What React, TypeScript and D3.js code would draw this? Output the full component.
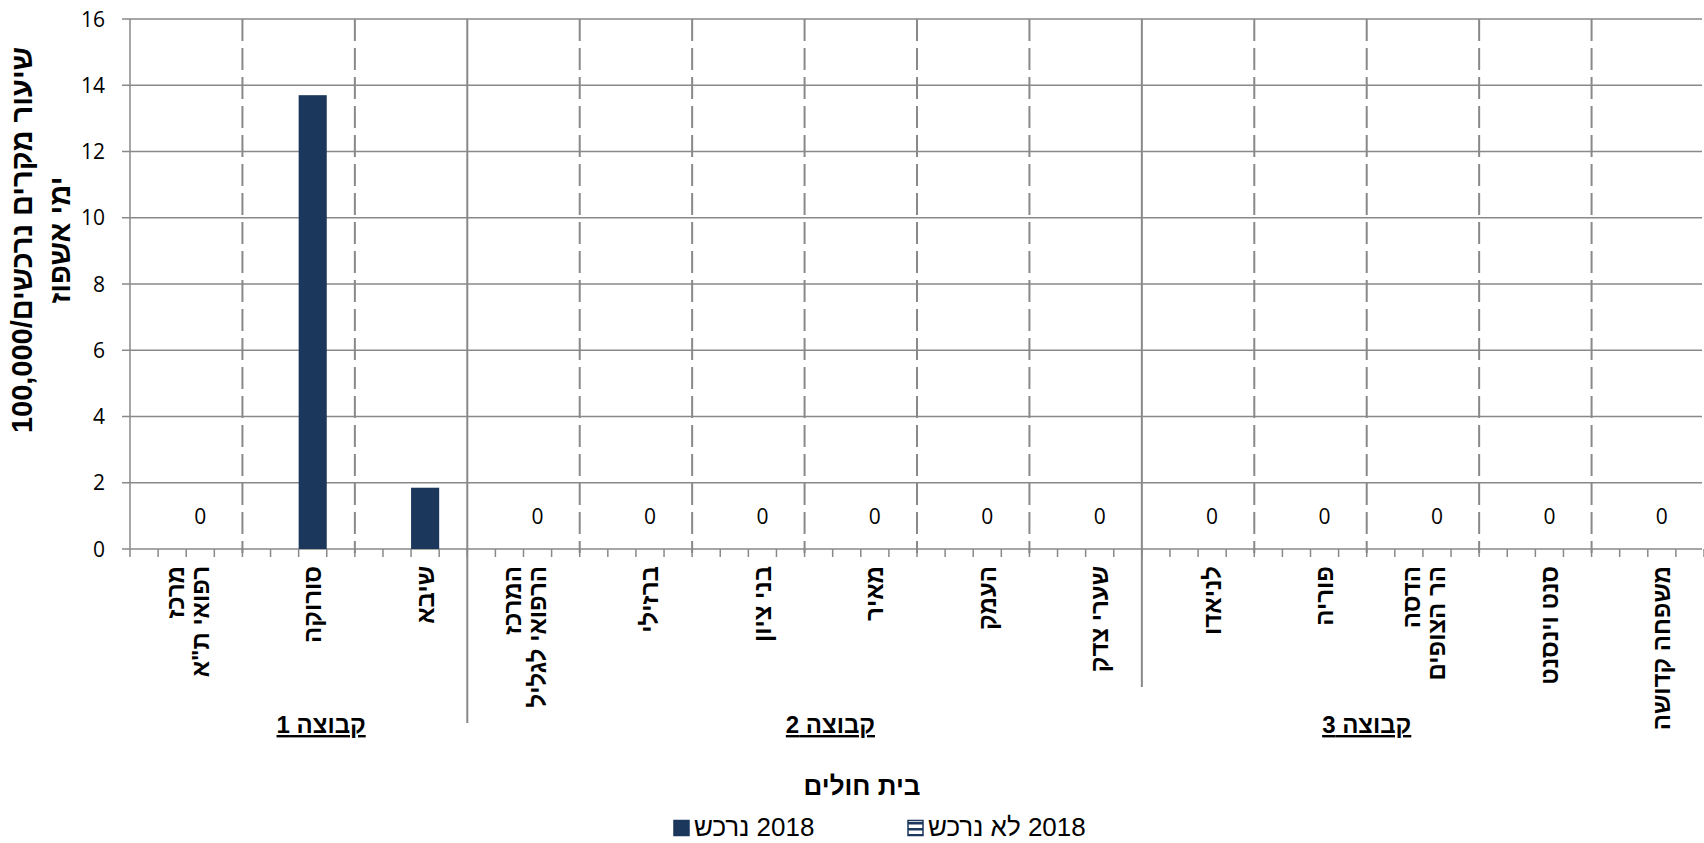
import React, { useEffect, useRef } from 'react';
import * as d3 from 'd3';

// ---------- data ----------
const categories = [
  'מרכז רפואי ת"א', 'סורוקה', 'שיבא',
  'המרכז הרפואי לגליל', 'ברזילי', 'בני ציון', 'מאיר', 'העמק', 'שערי צדק',
  'לניאדו', 'פוריה', 'הדסה הר הצופים', 'סנט וינסנט', 'משפחה קדושה',
];
const categoryLines: string[][] = [
  ['מרכז', 'רפואי ת"א'], ['סורוקה'], ['שיבא'],
  ['המרכז', 'הרפואי לגליל'], ['ברזילי'], ['בני ציון'], ['מאיר'], ['העמק'], ['שערי צדק'],
  ['לניאדו'], ['פוריה'], ['הדסה', 'הר הצופים'], ['סנט וינסנט'], ['משפחה קדושה'],
];
const groupNames = ['קבוצה 1', 'קבוצה 2', 'קבוצה 3'];
const groupSizes = [3, 6, 5];
const seriesNames = ['2018 נרכש', '2018 לא נרכש'];
const purchased2018 = [0, 13.7, 1.85, 0, 0, 0, 0, 0, 0, 0, 0, 0, 0, 0];
const notPurchased2018 = [0, 0, 0, 0, 0, 0, 0, 0, 0, 0, 0, 0, 0, 0];
const yTicks = [0, 2, 4, 6, 8, 10, 12, 14, 16];
const yTitleLines = ['שיעור מקרים נרכשים/100,000', 'ימי אשפוז'];
const xTitle = 'בית חולים';

// ---------- layout / style ----------
const W = 1704, H = 843;
const PLOT = { left: 130, right: 1704, top: 19, bottom: 549 };
const GRID = '#898989';
const BAR = '#1b375c';
const HEB = '"Liberation Sans", Arial, "DejaVu Sans", sans-serif';
const NUM = '"Open Sans", "Liberation Sans", sans-serif';
const groupSepBottom = [723, 687];
const groupLabelShift = [0.2, 0.23, -0.5]; // in category widths
const LEGEND = { left: 674, slot: 234, box: 15, y: 827, font: 26 };

export default function App() {
  const ref = useRef<SVGSVGElement>(null);

  useEffect(() => {
    const svg = d3.select(ref.current);
    svg.selectAll('*').remove();

    const x = d3.scaleBand<string>().domain(categories).range([PLOT.left, PLOT.right]).padding(0);
    const bw = x.bandwidth();
    const y = d3.scaleLinear().domain([0, 16]).range([PLOT.bottom, PLOT.top]);

    const defs = svg.append('defs');
    const pat = defs.append('pattern').attr('id', 'hatch').attr('patternUnits', 'userSpaceOnUse')
      .attr('width', 8).attr('height', 6);
    pat.append('rect').attr('width', 8).attr('height', 6).attr('fill', '#fff');
    pat.append('rect').attr('width', 8).attr('height', 2.5).attr('fill', BAR);

    // horizontal gridlines
    svg.append('g').selectAll('line').data(yTicks).join('line')
      .attr('x1', PLOT.left - 8).attr('x2', PLOT.right - 2)
      .attr('y1', (d) => y(d)).attr('y2', (d) => y(d))
      .attr('stroke', GRID).attr('stroke-width', 1.5);

    // y tick labels
    svg.append('g').selectAll('text').data(yTicks).join('text')
      .attr('x', 105).attr('y', (d) => y(d)).attr('dy', '0.36em')
      .attr('text-anchor', 'end').attr('font-family', NUM).attr('font-size', 21).attr('fill', '#000')
      .text((d) => String(d));

    // category separators
    const groupBoundaries = new Set<number>();
    let acc = 0;
    groupSizes.forEach((s, i) => { acc += s; if (i < groupSizes.length - 1) groupBoundaries.add(acc); });
    const sepG = svg.append('g');
    let gi = 0;
    for (let i = 1; i < categories.length; i++) {
      const xx = PLOT.left + i * bw;
      if (groupBoundaries.has(i)) {
        sepG.append('line').attr('x1', xx).attr('x2', xx).attr('y1', PLOT.top).attr('y2', groupSepBottom[gi++])
          .attr('stroke', GRID).attr('stroke-width', 2);
      } else {
        sepG.append('line').attr('x1', xx).attr('x2', xx).attr('y1', PLOT.top).attr('y2', PLOT.bottom + 4)
          .attr('stroke', GRID).attr('stroke-width', 2).attr('stroke-dasharray', '22 7');
      }
    }

    // y axis
    svg.append('line').attr('x1', PLOT.left).attr('x2', PLOT.left).attr('y1', PLOT.top).attr('y2', PLOT.bottom)
      .attr('stroke', GRID).attr('stroke-width', 1.5);
    // x axis ticks (quarter category)
    const qTicks = d3.range(0, categories.length * 4 + 1).map((i) => PLOT.left + (i * bw) / 4);
    svg.append('g').selectAll('line').data(qTicks).join('line')
      .attr('x1', (d) => d).attr('x2', (d) => d).attr('y1', PLOT.bottom).attr('y2', PLOT.bottom + 8)
      .attr('stroke', GRID).attr('stroke-width', 1.5);

    // bars
    svg.append('g').selectAll('rect').data(notPurchased2018).join('rect')
      .attr('x', (_, i) => (x(categories[i]) as number) + bw * 0.25).attr('width', bw * 0.25)
      .attr('y', (d) => y(d)).attr('height', (d) => y(0) - y(d))
      .attr('fill', 'url(#hatch)').attr('stroke', BAR);
    svg.append('g').selectAll('rect').data(purchased2018).join('rect')
      .attr('x', (_, i) => (x(categories[i]) as number) + bw * 0.5).attr('width', bw * 0.25)
      .attr('y', (d) => y(d)).attr('height', (d) => y(0) - y(d))
      .attr('fill', BAR);

    // data labels for zero values
    svg.append('g').selectAll('text').data(purchased2018.map((v, i) => ({ v, i })).filter((d) => d.v === 0)).join('text')
      .attr('x', (d) => (x(categories[d.i]) as number) + bw * 0.625)
      .attr('y', (d) => y(d.v) - 33).attr('dy', '0.36em')
      .attr('text-anchor', 'middle').attr('font-family', NUM).attr('font-size', 21)
      .text((d) => String(d.v));

    // category labels (rotated)
    const lineStep = 25;
    categoryLines.forEach((lines, i) => {
      const cx = (x(categories[i]) as number) + bw * 0.625;
      lines.forEach((ln, j) => {
        const lx = cx - (lines.length - 1 - j) * lineStep;
        svg.append('text')
          .attr('transform', `translate(${lx},566) rotate(-90)`)
          .attr('direction', 'rtl').attr('text-anchor', 'start')
          .attr('dominant-baseline', 'central')
          .attr('font-family', HEB).attr('font-weight', 'bold').attr('font-size', 24)
          .text(ln);
      });
    });

    // group labels
    let start = 0;
    groupSizes.forEach((s, i) => {
      const gx = PLOT.left + (start + s / 2 + groupLabelShift[i]) * bw;
      start += s;
      svg.append('text').attr('x', gx).attr('y', 733)
        .attr('text-anchor', 'middle').attr('direction', 'rtl')
        .attr('font-family', HEB).attr('font-weight', 'bold').attr('font-size', 24)
        .attr('text-decoration', 'underline')
        .text(groupNames[i]);
    });

    // y title
    yTitleLines.forEach((ln, j) => {
      svg.append('text')
        .attr('transform', `translate(${22 + j * 38},240) rotate(-90)`)
        .attr('direction', 'rtl').attr('text-anchor', 'middle').attr('dominant-baseline', 'central')
        .attr('font-family', HEB).attr('font-weight', 'bold').attr('font-size', 29)
        .text(ln);
    });

    // x title
    svg.append('text').attr('x', 862).attr('y', 795).attr('text-anchor', 'middle').attr('direction', 'rtl')
      .attr('font-family', HEB).attr('font-weight', 'bold').attr('font-size', 26).text(xTitle);

    // legend (equal-width slots, symbol left of text)
    const items = [
      { name: seriesNames[0], fill: BAR },
      { name: seriesNames[1], fill: 'url(#hatch)' },
    ];
    const leg = svg.append('g');
    items.forEach((it, k) => {
      const bx = LEGEND.left + k * LEGEND.slot;
      leg.append('rect').attr('x', bx).attr('y', LEGEND.y - LEGEND.box / 2 + 1)
        .attr('width', LEGEND.box).attr('height', LEGEND.box)
        .attr('fill', it.fill).attr('stroke', BAR).attr('stroke-width', 1.5);
      leg.append('text').attr('x', bx + LEGEND.box + 5).attr('y', LEGEND.y).attr('dy', '0.36em')
        .attr('direction', 'rtl').attr('text-anchor', 'end')
        .attr('font-family', HEB).attr('font-size', LEGEND.font).text(it.name);
    });
  }, []);

  return (
    <svg ref={ref} width={W} height={H}
      style={{ position: 'absolute', left: 0, top: 0, background: '#fff' }} />
  );
}
